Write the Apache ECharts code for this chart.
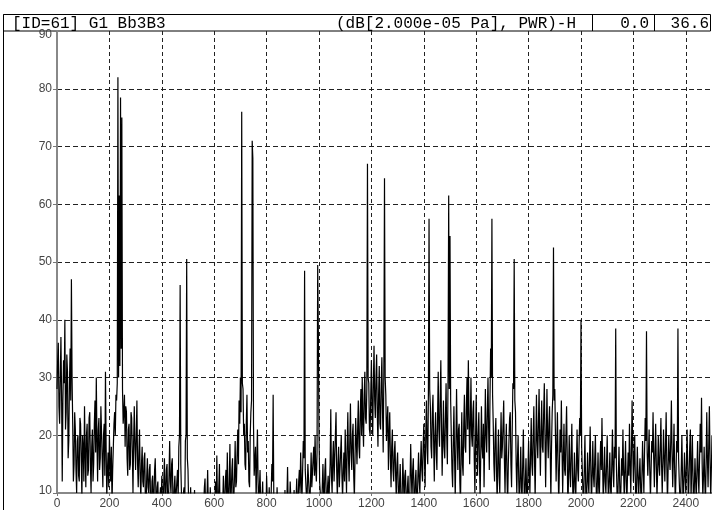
<!DOCTYPE html>
<html><head><meta charset="utf-8">
<script src="https://cdn.jsdelivr.net/npm/echarts@6/dist/echarts.min.js"></script>
<style>html,body{margin:0;padding:0;background:#fff}#c{width:712px;height:510px}</style>
</head><body><div id="c"></div>
<script>
// Frequency step of the spectrum (Hz) and levels in dB, starting at 0 Hz (one row = 100 Hz)
const freqStep = 2.5;
const levels = [
 28,33,36,25,22,30,37,27,12,26,33,29,40,21,24,34,31,16,19,29,35,26,47,30,22,12,15,24,21,14,10,19,20,13,12,23,22,16,9,20,
 18,12,25,17,11,20,22,13,14,23,24,15,10,18,21,12,15,22,26,17,30,19,12,21,23,14,16,25,25,16,11,20,22,13,31,18,9,14,17,11,
 20,15,12,18,8,14,18,22,24,20,27,26,29,82,30,61.5,32,78.5,35,75,28,22,24,27,18,25,24,16,13,21,22,14,15,24,23,17,10,19,25,18,
 14,20,26,15,11,17,21,13,9,15,18,12,11,16,17,8,7,13,16,11,10,14,15,7,6,12,13,8,9,14,16,10,7,11,12,6,5,9,11,7,
 13,9,6,12,16,10,9,14,15,8,7,13,19,12,10,15,16,9,6,11,13,8,8,12,14,9,18,20,46,15,10,6,7,10,11,7,19,20,50.5,16,
 14,8,7,5,11,6,6,4,5,7,10.5,5,6,3,4,6,5,2,3,5,5,3,4,6,8,11,12.5,6,7,9,14,8,9,5,11,7,6,4,10,6,
 6,9,12,7,16.5,8,7,11,15,6,9,5,5,8,13,7,8,12,14,9,17,10,7,12,18.5,9,10,14,16,8,9,13,19,11,12,17,21,15,26,22,
 30,24,76,29,28,20,22,15,14,22,27,17,19,12,11,20,24,26,71,68,22,13,13,18,9,15,21,12,7,11,14,8,5,9,12,6,5,8,10,6,
 13,9,6,8,11,7,5,10,15,12,27,9,8,5,4,6,11,7,4,3,6,4,3,5,8,6,5,3,10.5,7,6,9,14.5,8,5,7,12,9,7,4,
 5,8,10.5,6,6,9,12.5,7,8,12,14,10,17,12,9,14,19,16,48.5,14,14,9,10,15,15,10,7,12,17,11,11,16,18,13,20,14,12,17,49.5,38,
 20,12,12,8,7,11,15,10,9,14,16,9,6,11,13,8,8,15,24.5,13,10,16,19,12,12,20,24,14,9,15,18,11,11,17,20,13,9,14,17,12,
 21,15,10,18,24,16,12,19,25.5,17,14,20,22,13,9,16,23,19,15,21,26,18,16,24,28,20,30,22,18,27,31,23,22,28,67,30,29,21,20,27,
 33,25,20,29,35.5,26,23,30,34,24,18,27,32,22,21,29,33.5,24,17,31,64.5,30,27,19,22,25,14,20,24,16,11,18,21,14,12,17,19,13,9,15,
 17,11,7,12,15,9,6,10,16,12,8,13,14,9,6,11,13,8,5,12,18.5,13,9,14,16,10,7,12,14,9,8,13,17,12,10,15,19,14,12,18,
 22,16,11,20,26,18,15,27,57.5,28,25,18,16,24,27,19,12,20,24,17,14,23,31,21,18,26,33,22,13,19,26,18,16,23,29,20,15,30,61.5,28,
 54.5,26,20,14,11,19,25,16,9,18,28,20,14,21,22,12,8,17,24,15,13,22,27,18,17,25,30,21,33,24,15,22,30,20,18,24,26,16,10,19,
 27,19,13,20,24,15,9,17,25,18,16,22,11,19,28,20,17,24,30,21,14,26,35,30,57.5,27,22,15,12,20,23,14,8,16,21,13,10,18,24,16,
 18,22,26,16,10,17,22,13,8,15,19,23,24,15,11,21,29,28,50.5,26,24,15,10,16,20,12,7,13,18,11,9,15,21,12,6,12,16,10,8,14,
 19,13,10,17,23,15,13,20,25,16,9,18,27,19,16,22,28,19,13,21,26,18,17,24,29,20,11,19,28,20,16,22,25,17,9,18,24,27,52.5,26,
 28,20,12,18,24,15,8,14,21,17,26,18,10,16,22,14,13,20,25,16,7,13,20,14,11,17,22,13,7,12,17,11,9,15,21,14,12,18,23,20,
 40,18,14,10,8,14,20,12,6,11,17,12,10,16,21.5,14,8,13,19,13,11,16,20,12,7,12,17,11,9,15,19,14,23,15,8,13,18,12,10,15,
 20,13,8,12,17,11,9,15,21,14,11,18,16,38.5,15,10,8,13,18,12,7,11,16,13,21,14,9,14,19,12,8,13,17,13,22,15,10,17,26,18,
 12,16,20,12,6,12,18,13,9,13,16,11,7,13,19,14,10,17,23,19,38,17,13,17,21,14,9,14,19,17,24,16,11,17,22,15,9,14,20,15,
 13,18,23,15,10,15,21,16,12,18,24,15,8,14,20,16,14,19,26,17,11,16,22,14,8,13,19,17,38.5,16,12,9,8,14,20,13,7,12,17,13,
 10,15,21,14,8,13,18,21,9,14,20,13,6,11,16,12,9,14,19,13,10,16,22,17,26.5,15,9,13,18,12,8,15,24,16,11,18,25,16,9,14,
 20
];
const xRange = [0, 2500];
const xTickInterval = 200;
const yRange = [10, 90];
const yTickInterval = 10;
const headerLeft = '[ID=61] G1 Bb3B3';
const headerMid = '(dB[2.000e-05 Pa], PWR)-H';
const headerVal1 = '0.0';
const headerVal2 = '36.6';

const chart = echarts.init(document.getElementById('c'), null, {renderer: 'canvas'});
const seriesData = levels.map((v, i) => [i * freqStep, v]);
const mono = '"Liberation Mono", "Courier New", monospace';
const sans = '"Liberation Sans", Arial, sans-serif';

chart.setOption({
  animation: false,
  backgroundColor: '#fff',
  grid: {left: 57, top: 31, right: 0, bottom: 11.5, containLabel: false},
  xAxis: {
    type: 'value', min: xRange[0], max: xRange[1], interval: xTickInterval,
    axisLine: {lineStyle: {color: '#888', width: 2}},
    axisTick: {show: true, length: 3, lineStyle: {color: '#777'}},
    axisLabel: {fontFamily: sans, fontSize: 12, color: '#444', margin: 5, showMaxLabel: false, formatter: v => String(v)},
    splitLine: {show: true, showMinLine: false, showMaxLine: false, lineStyle: {color: '#222', type: [4, 3], width: 1}}
  },
  yAxis: {
    type: 'value', min: yRange[0], max: yRange[1], interval: yTickInterval,
    axisLine: {show: true, lineStyle: {color: '#888', width: 2}},
    axisTick: {show: true, length: 4, lineStyle: {color: '#777'}},
    axisLabel: {
      fontFamily: sans, fontSize: 12, color: '#444', margin: 5,
      formatter: v => v === yRange[1] ? '{t|' + v + '}' : (v === yRange[0] ? '{b|' + v + '}' : '{n|' + v + '}'),
      rich: {
        t: {fontFamily: sans, fontSize: 12, color: '#444', padding: [8, 0, 0, 0]},
        b: {fontFamily: sans, fontSize: 12, color: '#444', padding: [0, 0, 5, 0]},
        n: {fontFamily: sans, fontSize: 12, color: '#444'}
      }
    },
    splitLine: {show: true, showMinLine: false, showMaxLine: false, lineStyle: {color: '#222', type: [5, 3], width: 1}}
  },
  series: [{
    type: 'line', data: seriesData, showSymbol: false, symbol: 'none', sampling: null,
    lineStyle: {color: '#000', width: 1.2, join: 'miter', miterLimit: 2}, clip: true, silent: true, z: 3
  }],
  graphic: [
    {type: 'rect', shape: {x: 3.5, y: 14.5, width: 707, height: 16.5}, style: {fill: '#fff', stroke: '#000', lineWidth: 1}},
    {type: 'line', shape: {x1: 3.5, y1: 14.5, x2: 3.5, y2: 510}, style: {stroke: '#000', lineWidth: 1}},
    {type: 'line', shape: {x1: 592.5, y1: 14.5, x2: 592.5, y2: 31}, style: {stroke: '#000', lineWidth: 1}},
    {type: 'line', shape: {x1: 654.5, y1: 14.5, x2: 654.5, y2: 31}, style: {stroke: '#000', lineWidth: 1}},
    {type: 'text', x: 12, y: 23.5, style: {text: headerLeft, font: '16px ' + mono, fill: '#000', verticalAlign: 'middle'}},
    {type: 'text', x: 336, y: 23.5, style: {text: headerMid, font: '16px ' + mono, fill: '#000', verticalAlign: 'middle'}},
    {type: 'text', x: 649, y: 23.5, style: {text: headerVal1, font: '16px ' + mono, fill: '#000', align: 'right', verticalAlign: 'middle'}},
    {type: 'text', x: 709, y: 23.5, style: {text: headerVal2, font: '16px ' + mono, fill: '#000', align: 'right', verticalAlign: 'middle'}}
  ]
});
</script>
</body></html>
